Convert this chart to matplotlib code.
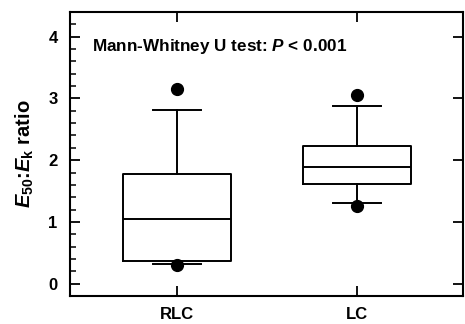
import matplotlib.pyplot as plt
from matplotlib.ticker import MultipleLocator

plt.rcParams['font.family'] = ['Liberation Sans', 'DejaVu Sans']
plt.rcParams['mathtext.fontset'] = 'custom'
plt.rcParams['mathtext.it'] = 'Liberation Sans:bold:italic'
plt.rcParams['mathtext.rm'] = 'Liberation Sans:bold'
plt.rcParams['mathtext.bf'] = 'Liberation Sans:bold'

groups = ['RLC', 'LC']
# percentile summaries: 10th/25th/50th/75th/90th, plus 5th and 95th as dots
p10 = [0.32, 1.31]
q1 = [0.37, 1.62]
med = [1.05, 1.89]
q3 = [1.78, 2.23]
p90 = [2.82, 2.87]
p05 = [0.30, 1.26]
p95 = [3.16, 3.05]

stats = []
for i, g in enumerate(groups):
    stats.append({'label': g, 'whislo': p10[i], 'q1': q1[i], 'med': med[i],
                  'q3': q3[i], 'whishi': p90[i], 'fliers': [p05[i], p95[i]]})

fig = plt.figure(figsize=(4.65, 3.24), dpi=100)
ax = fig.add_axes([70 / 465, 1 - 296 / 324, 393 / 465, 284 / 324])

lw = 1.4
ax.bxp(stats, positions=[1, 2], widths=0.6,
       boxprops=dict(color='black', linewidth=lw),
       medianprops=dict(color='black', linewidth=lw),
       whiskerprops=dict(color='black', linewidth=lw),
       capprops=dict(color='black', linewidth=lw),
       capwidths=0.27,
       flierprops=dict(marker='o', markerfacecolor='black',
                       markeredgecolor='black', markersize=8.5))

ax.set_xlim(0.405, 2.59)
ax.set_ylim(-0.2, 4.4)
ax.yaxis.set_major_locator(MultipleLocator(1))
ax.yaxis.set_minor_locator(MultipleLocator(0.2))
ax.set_xticks([1, 2])
ax.set_xticklabels(groups, fontsize=12, fontweight='bold')
ax.set_yticks([0, 1, 2, 3, 4])
ax.set_yticklabels(['0', '1', '2', '3', '4'], fontsize=12, fontweight='bold')

ax.tick_params(axis='both', which='major', direction='in', length=7, width=1.3,
               top=True, right=True)
ax.tick_params(axis='y', which='minor', direction='in', length=4, width=1.1,
               left=True, right=False)
ax.tick_params(axis='x', pad=8)
ax.tick_params(axis='y', pad=9)
for s in ax.spines.values():
    s.set_linewidth(1.5)

ax.set_ylabel(r'$E_{50}$:$E_{\mathrm{k}}$ ratio', fontsize=14.5, fontweight='bold', labelpad=9)

ax.text(0.055, 0.88, r'Mann-Whitney U test: $P$ < 0.001', transform=ax.transAxes,
        fontsize=12.3, fontweight='bold', va='center', ha='left')

fig.savefig('out.png', dpi=100)
